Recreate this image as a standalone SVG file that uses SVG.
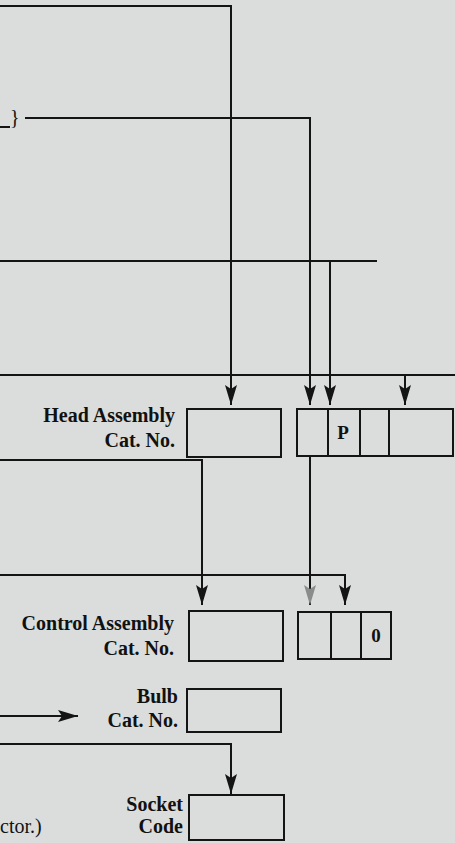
<svg xmlns="http://www.w3.org/2000/svg" width="455" height="843" viewBox="0 0 455 843">
<style>
.bg{fill:#dadddc}
.ln{fill:none;stroke:#141414;stroke-width:2}
.bx{fill:none;stroke:#141414;stroke-width:2}
.lb{font-family:"Liberation Serif","Times New Roman",serif;font-weight:bold;font-size:20px;fill:#111;text-anchor:end}
.ct{font-family:"Liberation Serif","Times New Roman",serif;font-weight:bold;font-size:19px;fill:#111;text-anchor:middle}
.fr{font-family:"Liberation Serif","Times New Roman",serif;font-size:20px;fill:#111}
</style>
<defs>
<marker id="ah" viewBox="0 0 20 12" refX="20" refY="6" markerWidth="20" markerHeight="12" markerUnits="userSpaceOnUse" orient="auto">
<path d="M0,0 L20,6 L0,12 L4,6 z" fill="#141414"/>
</marker>
<marker id="ahg" viewBox="0 0 20 12" refX="20" refY="6" markerWidth="20" markerHeight="12" markerUnits="userSpaceOnUse" orient="auto">
<path d="M0,0 L20,6 L0,12 L4,6 z" fill="#8a8c8c"/>
</marker>
</defs>
<rect class="bg" x="0" y="0" width="455" height="843"/>

<g id="fragments">
<path class="ln" d="M0,127 H10"/>
<text class="fr" x="10" y="124">}</text>
<text class="fr" x="0" y="833">ctor.)</text>
</g>

<g id="connectors">
<path class="ln" d="M0,6 H231 V405" marker-end="url(#ah)"/>
<path class="ln" d="M25,118 H310 V405" marker-end="url(#ah)"/>
<path class="ln" d="M0,261 H377"/>
<path class="ln" d="M330,261 V405" marker-end="url(#ah)"/>
<path class="ln" d="M0,375 H455"/>
<path class="ln" d="M405,375 V405" marker-end="url(#ah)"/>
<path class="ln" d="M0,460 H202 V605" marker-end="url(#ah)"/>
<path class="ln" d="M310,457 V605" marker-end="url(#ahg)"/>
<path class="ln" d="M0,575 H345 V605" marker-end="url(#ah)"/>
<path class="ln" d="M0,716 H78" marker-end="url(#ah)"/>
<path class="ln" d="M0,744 H231 V794" marker-end="url(#ah)"/>
</g>

<g id="head-cat">
<text class="lb" x="175" y="422">Head Assembly</text>
<text class="lb" x="175" y="447">Cat. No.</text>
<rect class="bx" x="187" y="409" width="94" height="48"/>
</g>

<g id="head-code">
<rect class="bx" x="297" y="409" width="156" height="47"/>
<path class="ln" d="M328,409 V456 M360,409 V456 M389,409 V456"/>
<text class="ct" x="343" y="439">P</text>
</g>

<g id="control-cat">
<text class="lb" x="174" y="630">Control Assembly</text>
<text class="lb" x="174" y="655">Cat. No.</text>
<rect class="bx" x="189" y="611" width="94" height="50"/>
</g>

<g id="control-code">
<rect class="bx" x="298" y="612" width="93" height="47"/>
<path class="ln" d="M331,612 V659 M361,612 V659"/>
<text class="ct" x="376" y="642">0</text>
</g>

<g id="bulb">
<text class="lb" x="178" y="703">Bulb</text>
<text class="lb" x="178" y="727">Cat. No.</text>
<rect class="bx" x="187" y="689" width="94" height="43"/>
</g>

<g id="socket">
<text class="lb" x="183" y="811">Socket</text>
<text class="lb" x="183" y="833">Code</text>
<rect class="bx" x="189" y="795" width="95" height="45"/>
</g>
</svg>
